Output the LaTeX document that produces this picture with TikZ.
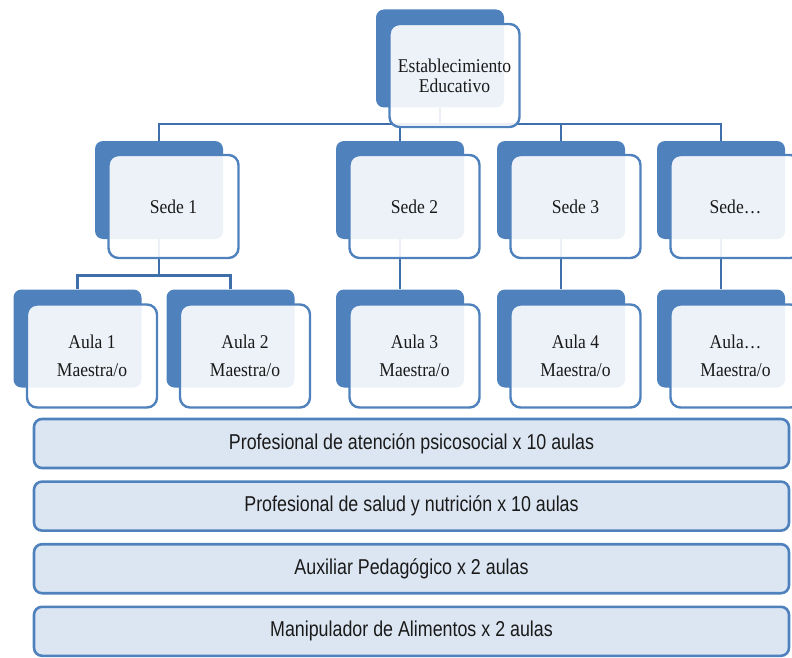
\documentclass[tikz,border=0pt]{standalone}
\usepackage{fontspec}
\usepackage{tikz}
\usetikzlibrary{positioning,calc,backgrounds}
\newfontfamily\boxfont[FakeStretch=0.9]{Liberation Serif}
\newfontfamily\stripfont[FakeStretch=0.83]{Liberation Sans}
\definecolor{orgblue}{HTML}{4F81BD}
\definecolor{orgline}{HTML}{3F6FAA}
\definecolor{orgpale}{HTML}{DCE6F2}
\definecolor{orgtext}{HTML}{1A1A1A}

\begin{document}
\begin{tikzpicture}[x=1pt,y=-1pt,
      back/.style={fill=orgblue,rounded corners=8pt,minimum width=128pt,minimum height=98pt,inner sep=0pt},
      front/.style={draw=orgblue,line width=2.4pt,fill=white,fill opacity=0.9,text opacity=1,
        rounded corners=10pt,minimum width=130pt,minimum height=103pt,inner sep=0pt,align=center,
        font=\boxfont\fontsize{19.5}{20}\selectfont,text=orgtext},
      strip/.style={draw=orgblue,fill=orgpale,line width=2.6pt,rounded corners=8pt,
        minimum width=755pt,minimum height=49pt,font=\stripfont\fontsize{21.5}{24}\selectfont,text=orgtext},
      link/.style={draw=orgline,line width=2.6pt}
    ]
    \useasboundingbox (0,0) rectangle (792,658);

    % top
    \node[back] (est) at (440,58.5) {};
    \node[front] (est-f) at ($(est)+(14.5,17)$) {Establecimiento\\Educativo};

    % sedes
    \foreach \n/\x/\t in {s1/159/Sede 1,s2/400/Sede 2,s3/561/Sede 3,s4/721/Sede…}{
      \node[back] (\n) at (\x,190) {};
      \node[front] (\n-f) at ($(\n)+(14.5,16.5)$) {\t};
    }

    % aulas
    \foreach \n/\x/\t in {a1/77.5/Aula 1,a2/230.5/Aula 2,a3/400/Aula 3,a4/561/Aula 4,a5/721/Aula…}{
      \node[back] (\n) at (\x,338.5) {};
      \node[front] (\n-f) at ($(\n)+(14.5,17.5)$) {\t\\[8pt]Maestra/o};
    }

    % personal de apoyo
    \node[strip] (p1) at (411.5,443.5) {Profesional de atención psicosocial x 10 aulas};
    \node[strip,below=11pt of p1] (p2) {Profesional de salud y nutrición x 10 aulas};
    \node[strip,below=11pt of p2] (p3) {Auxiliar Pedagógico x 2 aulas};
    \node[strip,below=11pt of p3] (p4) {Manipulador de Alimentos x 2 aulas};

    % connectors
    \begin{scope}[on background layer]
      \coordinate (hub) at ($(est.south)+(0,16.5)$);
      \coordinate (split) at ($(s1.south)+(0,36)$);
      \foreach \n in {s1,s2,s3,s4}
        \draw[link] (est.south) -- (hub) -| (\n.north);
      \foreach \n in {a1,a2}
        \draw[link] (s1.south) -- (split) -| (\n.north);
      \draw[link] (s2.south) -- (a3.north);
      \draw[link] (s3.south) -- (a4.north);
      \draw[link] (s4.south) -- (a5.north);
    \end{scope}
  \end{tikzpicture}
\end{document}
